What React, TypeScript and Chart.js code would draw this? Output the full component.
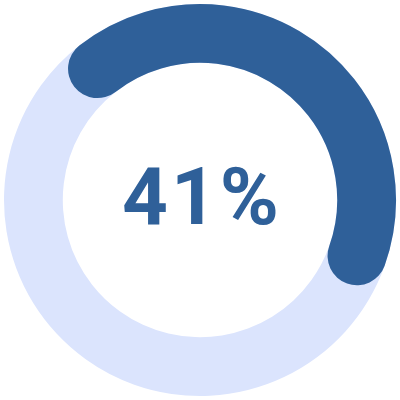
import { useEffect, useRef } from 'react';
import { Chart, registerables, ArcElement, Plugin } from 'chart.js';

Chart.register(...registerables);

const labels = ['Done', 'Remaining'];
const values = [41, 59];
const centerLabel = '41%';

const DARK = '#2f6099';
const LIGHT = '#dbe4fd';

// strokes the first slice as a thick arc with round caps over the light ring
const roundCapArc: Plugin<'doughnut'> = {
  id: 'roundCapArc',
  afterDatasetsDraw(chart) {
    const arc = chart.getDatasetMeta(0).data[0] as ArcElement;
    if (!arc) return;
    const { x, y, startAngle, endAngle, innerRadius, outerRadius } = arc.getProps(
      ['x', 'y', 'startAngle', 'endAngle', 'innerRadius', 'outerRadius'],
      true
    );
    const ctx = chart.ctx;
    const width = outerRadius - innerRadius;
    ctx.save();
    ctx.beginPath();
    ctx.arc(x, y, innerRadius + width / 2, startAngle, endAngle);
    ctx.lineWidth = width;
    ctx.lineCap = 'round';
    ctx.strokeStyle = DARK;
    ctx.stroke();
    ctx.restore();
  },
};

const App = () => {
  const chartRef = useRef<HTMLCanvasElement>(null);
  const chartInstance = useRef<Chart | null>(null);

  useEffect(() => {
    document.body.style.margin = '0';
    if (!chartRef.current) return;
    if (chartInstance.current) chartInstance.current.destroy();

    chartInstance.current = new Chart(chartRef.current, {
      type: 'doughnut',
      data: {
        labels,
        datasets: [
          {
            data: values,
            backgroundColor: [LIGHT, LIGHT],
            borderWidth: 0,
          },
        ],
      },
      options: {
        animation: false,
        responsive: true,
        maintainAspectRatio: false,
        cutout: '70%',
        rotation: -38,
        layout: { padding: 4 },
        plugins: {
          legend: { display: false },
          tooltip: { enabled: false },
        },
      },
      plugins: [roundCapArc],
    });

    return () => {
      chartInstance.current?.destroy();
      chartInstance.current = null;
    };
  }, []);

  return (
    <div style={{ position: 'relative', width: 400, height: 400 }}>
      <canvas ref={chartRef} />
      <div
        style={{
          position: 'absolute',
          inset: 0,
          display: 'flex',
          alignItems: 'center',
          justifyContent: 'center',
          pointerEvents: 'none',
          fontFamily: 'Roboto, sans-serif',
          fontWeight: 700,
          fontSize: 80,
          color: DARK,
          letterSpacing: 3,
          paddingBottom: 6,
          paddingLeft: 4,
          boxSizing: 'border-box',
        }}
      >
        {centerLabel}
      </div>
    </div>
  );
};

export default App;
